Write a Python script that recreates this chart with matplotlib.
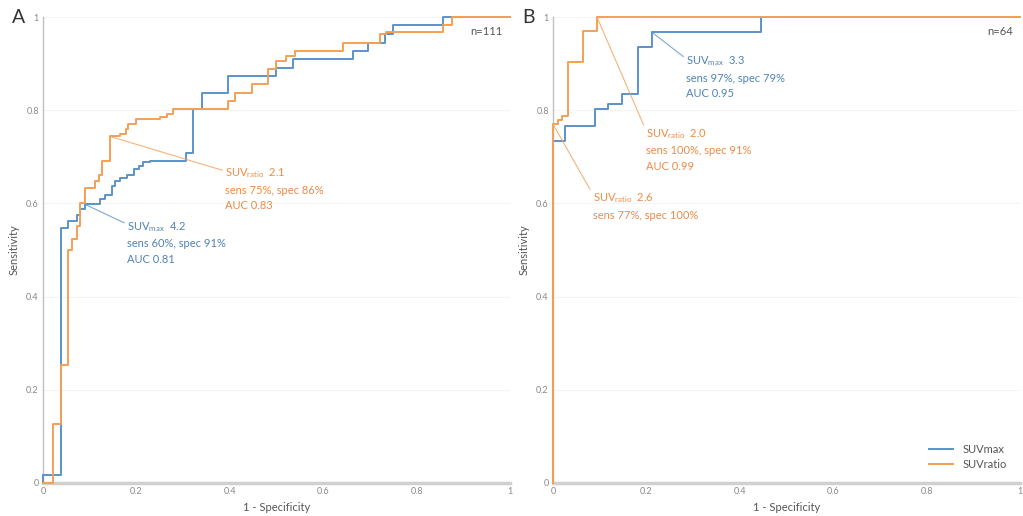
import matplotlib.pyplot as plt

plt.rcParams['font.family'] = ['Lato', 'DejaVu Sans']

# panel A (n=111), step corners of each ROC curve
a_max_fpr = [0, 0, 0.038, 0.054, 0.072, 0.080, 0.090, 0.122, 0.133, 0.147, 0.155, 0.165,
             0.180, 0.195, 0.205, 0.215, 0.230, 0.307, 0.322, 0.340, 0.397, 0.500, 0.536,
             0.664, 0.697, 0.732, 0.750, 0.857, 1.0]
a_max_tpr = [0, 0.017, 0.548, 0.562, 0.576, 0.587, 0.598, 0.610, 0.619, 0.637, 0.648, 0.655,
             0.662, 0.673, 0.680, 0.688, 0.692, 0.709, 0.802, 0.838, 0.874, 0.891, 0.910,
             0.928, 0.945, 0.963, 0.983, 1.0, 1.0]
a_ratio_fpr = [0, 0.021, 0.039, 0.054, 0.062, 0.072, 0.080, 0.090, 0.111, 0.120, 0.126, 0.143,
               0.165, 0.178, 0.182, 0.200, 0.250, 0.265, 0.278, 0.397, 0.411, 0.447, 0.482,
               0.500, 0.520, 0.540, 0.643, 0.722, 0.735, 0.857, 0.875, 1.0]
a_ratio_tpr = [0, 0.127, 0.254, 0.501, 0.523, 0.551, 0.600, 0.634, 0.648, 0.660, 0.691, 0.744,
               0.748, 0.759, 0.770, 0.781, 0.786, 0.791, 0.802, 0.820, 0.838, 0.856, 0.888,
               0.905, 0.917, 0.928, 0.945, 0.963, 0.967, 0.983, 1.0, 1.0]

# panel B (n=64)
b_max_fpr = [0, 0, 0.026, 0.090, 0.118, 0.147, 0.183, 0.211, 0.445, 1.0]
b_max_tpr = [0, 0.734, 0.766, 0.802, 0.813, 0.834, 0.935, 0.968, 1.0, 1.0]
b_ratio_fpr = [0, 0, 0.010, 0.020, 0.033, 0.065, 0.094, 1.0]
b_ratio_tpr = [0, 0.770, 0.778, 0.788, 0.903, 0.971, 1.0, 1.0]

ticks = [0, 0.2, 0.4, 0.6, 0.8, 1]
tick_labels = ['0', '0.2', '0.4', '0.6', '0.8', '1']

BLUE = '#5b93c9'
ORANGE = '#f4a055'
BLUE_TXT = '#4f82b8'
ORANGE_TXT = '#ef8a45'

fig = plt.figure(figsize=(10.23, 5.16), dpi=100)
axA = fig.add_axes([0.042, 0.064, 0.4565, 0.903])
axB = fig.add_axes([0.5406, 0.064, 0.4565, 0.903])


def style(ax, letter, n_text):
    ax.set_xlim(0, 1)
    ax.set_ylim(0, 1)
    ax.set_xticks(ticks)
    ax.set_yticks(ticks)
    ax.set_xticklabels(tick_labels)
    ax.set_yticklabels(tick_labels)
    ax.tick_params(length=0, labelsize=6.5, colors='#888888', pad=3)
    for s in ['top', 'right']:
        ax.spines[s].set_visible(False)
    ax.spines['left'].set_color('#c0c0c0')
    ax.spines['left'].set_linewidth(1.0)
    ax.spines['bottom'].set_color('#d0d0d0')
    ax.spines['bottom'].set_linewidth(2.5)
    ax.grid(axis='y', color='#f4f4f4', lw=0.8)
    ax.set_axisbelow(True)
    ax.set_xlabel('1 - Specificity', fontsize=8, color='#555555', labelpad=4)
    ax.set_ylabel('Sensitivity', fontsize=8, color='#555555', labelpad=5)
    ax.text(-0.053, 1.0, letter, transform=ax.transAxes, fontsize=14,
            color='#333333', ha='center', va='center')
    ax.text(0.985, 0.97, n_text, transform=ax.transAxes, fontsize=8,
            color='#555555', ha='right', va='center')


def note(ax, xy, xytext, lines, color, lcolor):
    ax.annotate('\n'.join(lines), xy=xy, xytext=xytext, textcoords='data',
                fontsize=8, color=color, ha='left', va='top', linespacing=1.5,
                arrowprops=dict(arrowstyle='-', color=lcolor, lw=0.8, alpha=0.8,
                                shrinkA=0, shrinkB=0, relpos=(0, 0.9)))


def curve(ax, x, y, color, label):
    ax.plot(x, y, drawstyle='steps-post', color=color, lw=1.4, label=label,
            clip_on=False, zorder=3)


# panel A
curve(axA, a_max_fpr, a_max_tpr, BLUE, 'SUVmax')
curve(axA, a_ratio_fpr, a_ratio_tpr, ORANGE, 'SUVratio')
style(axA, 'A', 'n=111')
note(axA, (0.143, 0.744), (0.39, 0.679),
     [r'SUV$_{\mathregular{ratio}}$  2.1', 'sens 75%, spec 86%', 'AUC 0.83'],
     ORANGE_TXT, ORANGE)
note(axA, (0.090, 0.598), (0.18, 0.565),
     [r'SUV$_{\mathregular{max}}$  4.2', 'sens 60%, spec 91%', 'AUC 0.81'],
     BLUE_TXT, BLUE)

# panel B
curve(axB, b_max_fpr, b_max_tpr, BLUE, 'SUVmax')
curve(axB, b_ratio_fpr, b_ratio_tpr, ORANGE, 'SUVratio')
style(axB, 'B', 'n=64')
note(axB, (0.211, 0.968), (0.285, 0.92),
     [r'SUV$_{\mathregular{max}}$  3.3', 'sens 97%, spec 79%', 'AUC 0.95'],
     BLUE_TXT, BLUE)
note(axB, (0.094, 1.0), (0.20, 0.764),
     [r'SUV$_{\mathregular{ratio}}$  2.0', 'sens 100%, spec 91%', 'AUC 0.99'],
     ORANGE_TXT, ORANGE)
note(axB, (0.0, 0.77), (0.085, 0.626),
     [r'SUV$_{\mathregular{ratio}}$  2.6', 'sens 77%, spec 100%'],
     ORANGE_TXT, ORANGE)
leg = axB.legend(loc='lower right', frameon=False, fontsize=8, handlelength=2.2,
                 borderaxespad=0.8, labelspacing=0.3)
for t in leg.get_texts():
    t.set_color('#555555')

fig.savefig('out.png', dpi=100)
